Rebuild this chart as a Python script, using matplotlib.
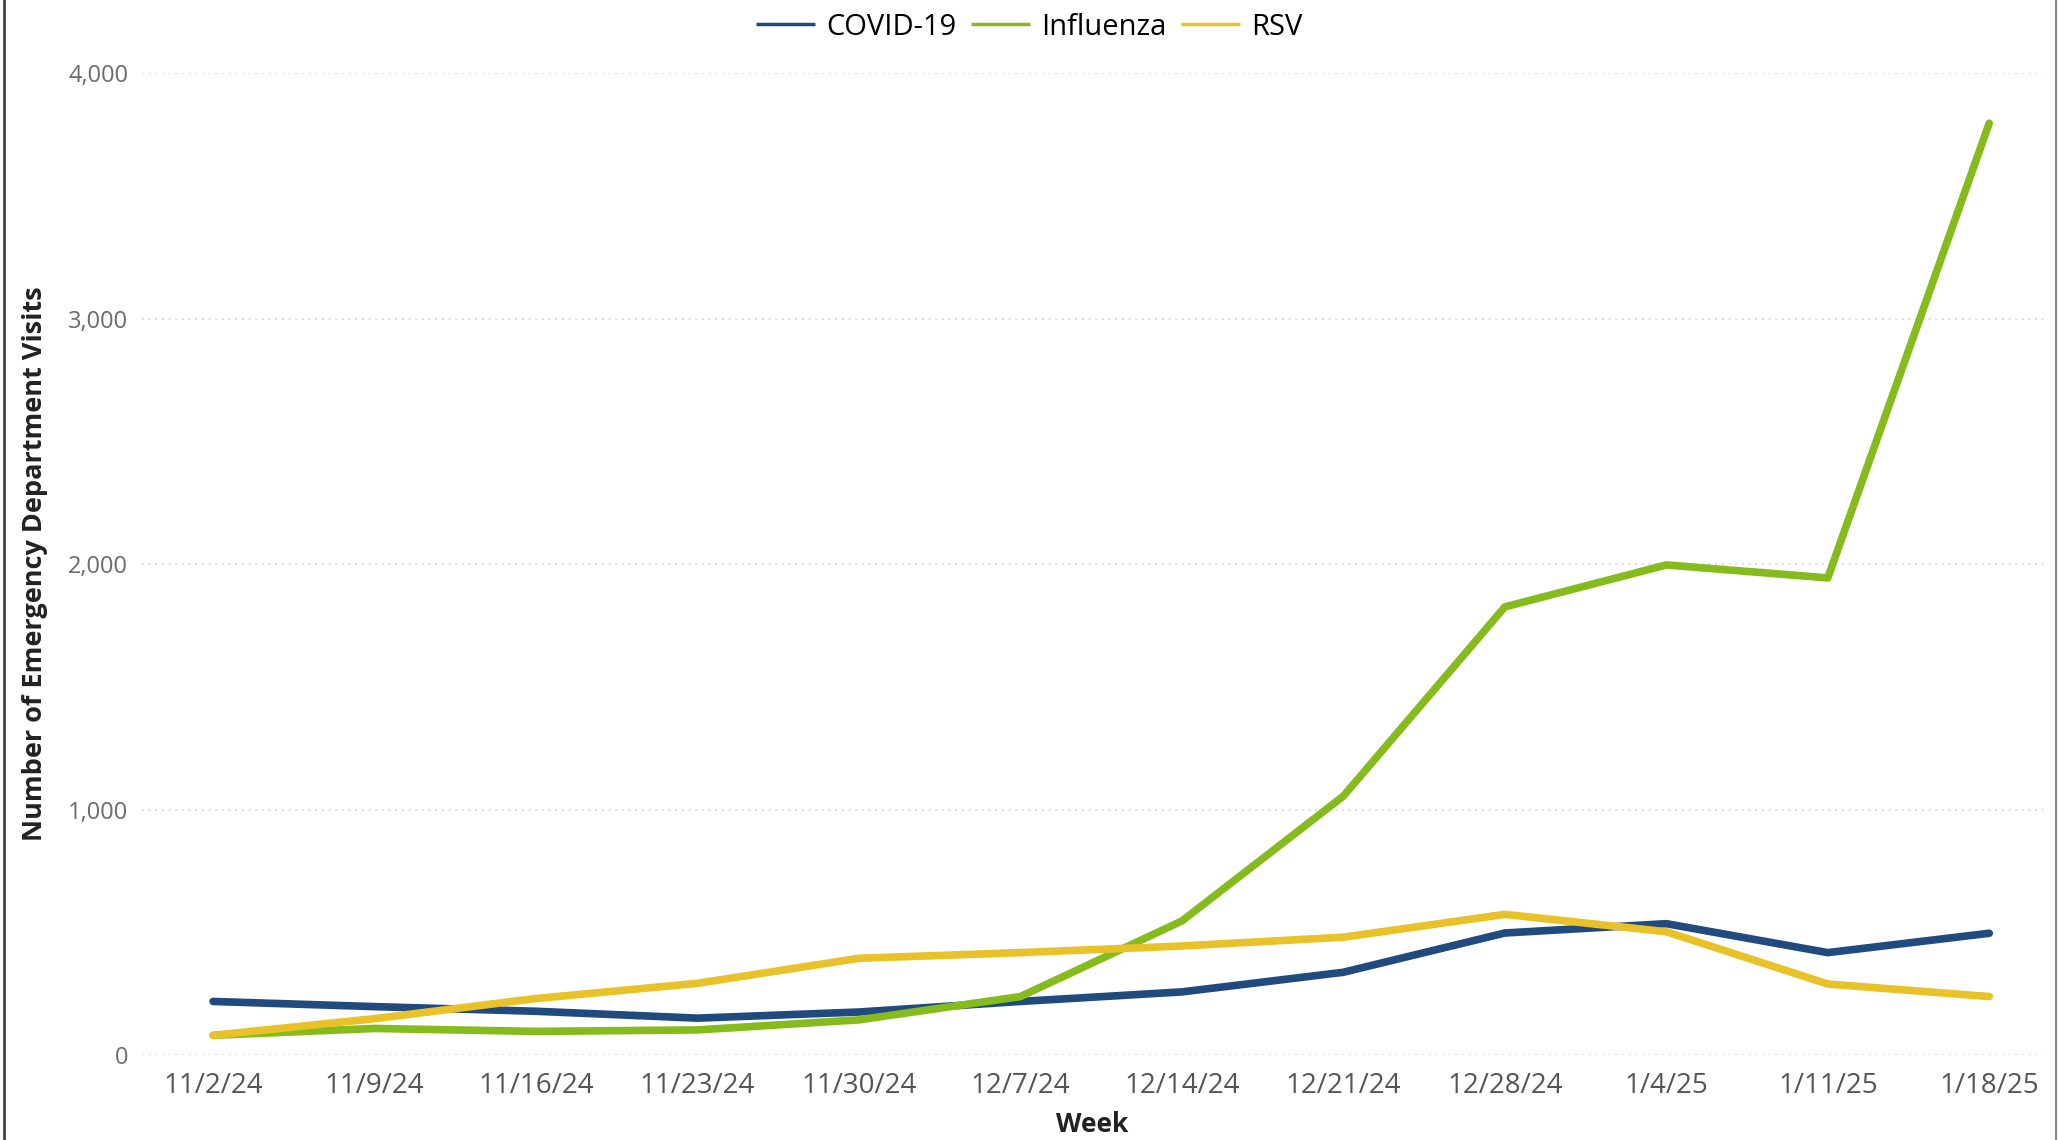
import numpy as np
import matplotlib.pyplot as plt
from matplotlib.lines import Line2D

weeks = ['11/2/24', '11/9/24', '11/16/24', '11/23/24', '11/30/24', '12/7/24',
         '12/14/24', '12/21/24', '12/28/24', '1/4/25', '1/11/25', '1/18/25']
covid = [218, 197, 178, 150, 175, 218, 257, 337, 497, 535, 417, 496]
flu = [80, 108, 96, 102, 143, 238, 546, 1055, 1826, 1997, 1944, 3797]
rsv = [80, 148, 230, 292, 394, 417, 444, 480, 573, 502, 289, 238]

narrow = ['Liberation Sans Narrow', 'Open Sans', 'DejaVu Sans']

fig = plt.figure(figsize=(20.59, 11.4), dpi=100)
ax = fig.add_axes([0.069, 0.0746, 0.923, 0.861])

x = np.arange(len(weeks))
ax.plot(x, covid, color='#214a7f', lw=5.5, label='COVID-19', solid_capstyle='round')
ax.plot(x, flu, color='#86bb1d', lw=5.5, label='Influenza', solid_capstyle='round')
ax.plot(x, rsv, color='#e9c229', lw=5.5, label='RSV', solid_capstyle='round')

ax.set_xlim(-0.44, 11.33)
ax.set_ylim(0, 4000)
ax.set_yticks([0, 1000, 2000, 3000, 4000])
ax.set_yticklabels(['0', '1,000', '2,000', '3,000', '4,000'],
                   fontfamily='Open Sans', fontsize=17, color='#6b6b6b')
ax.set_xticks(x)
ax.set_xticklabels(weeks, fontfamily=narrow, fontsize=20, color='#555555')
ax.tick_params(length=0)
ax.tick_params(axis='y', pad=10)
ax.tick_params(axis='x', pad=12)
ax.grid(axis='y', color='#d0d0d0', linestyle=(0, (1, 3)), lw=1.2)
for s in ax.spines.values():
    s.set_visible(False)

ax.set_xlabel('Week', fontfamily=narrow, fontweight='bold', fontsize=19,
              color='#222222', labelpad=8)
ax.set_ylabel('Number of Emergency Department Visits', fontfamily=narrow,
              fontweight='bold', fontsize=19.5, color='#222222', labelpad=14)

leg = fig.legend(loc='upper center', bbox_to_anchor=(0.5, 1.012), ncol=3, frameon=False,
                 prop={'family': narrow, 'size': 21}, handlelength=2.0,
                 handletextpad=0.4, columnspacing=0.5)
for h in leg.get_lines():
    h.set_linewidth(2.5)
    h.set_solid_capstyle('butt')

# figure border on the left and right
fig.add_artist(Line2D([0.002, 0.002], [0, 1], color='#444444', lw=2,
                      transform=fig.transFigure))
fig.add_artist(Line2D([0.9985, 0.9985], [0, 1], color='#888888', lw=1.5,
                      transform=fig.transFigure))

fig.savefig('out.png', dpi=100)
